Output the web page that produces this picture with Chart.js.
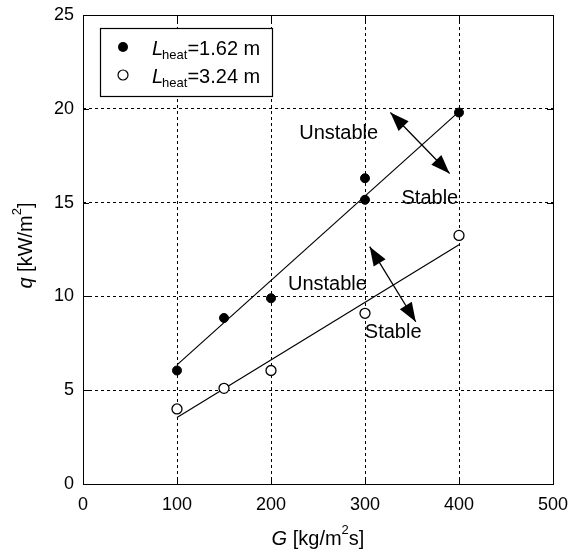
<!DOCTYPE html>
<html><head><meta charset="utf-8">
<script src="https://cdn.jsdelivr.net/npm/chart.js@4/dist/chart.umd.min.js"></script>
<style>html,body{margin:0;padding:0;background:#fff}#wrap{width:568px;height:552px}</style>
</head><body><div id="wrap"><canvas id="c" width="568" height="552"></canvas></div>
<script>
// ---- data ----
const G_short = [100, 150, 200, 300, 300, 400];
const q_short = [6.05, 8.85, 9.9, 16.3, 15.15, 19.8];
const G_long = [100, 150, 200, 300, 400];
const q_long = [4.0, 5.1, 6.05, 9.1, 13.25];
const fitG = [100, 400];
const fitShort = [6.35, 19.85];
const fitLong = [3.55, 12.75];
const xTicks = [0, 100, 200, 300, 400, 500];
const yTicks = [0, 5, 10, 15, 20, 25];
const legendLabels = ['=1.62 m', '=3.24 m'];
// annotations (data units)
const arrowUpperG = [327, 390], arrowUpperQ = [19.8, 16.55];
const arrowLowerG = [305, 354], arrowLowerQ = [12.65, 8.65];
const textLabels = ['Unstable', 'Stable', 'Unstable', 'Stable'];
const textG = [272, 369, 260, 330];
const textQ = [18.7, 15.2, 10.65, 8.05];

const FONT = '"Liberation Sans", Arial, sans-serif';
const toXY = (xs, ys) => xs.map((v, i) => ({x: v, y: ys[i]}));

const overlay = {
  id: 'overlay',
  afterDraw(chart) {
    const {ctx, chartArea: a, scales: {x, y}} = chart;
    ctx.save();
    ctx.strokeStyle = '#000'; ctx.fillStyle = '#000'; ctx.lineWidth = 1;
    const line = (x1, y1, x2, y2) => { ctx.beginPath(); ctx.moveTo(x1, y1); ctx.lineTo(x2, y2); ctx.stroke(); };
    // inward ticks on all sides
    xTicks.forEach(v => { const p = Math.round(x.getPixelForValue(v)) + 0.5; line(p, a.bottom, p, a.bottom - 6); line(p, a.top, p, a.top + 6); });
    yTicks.forEach(v => { const p = Math.round(y.getPixelForValue(v)) + 0.5; line(a.left, p, a.left + 6, p); line(a.right, p, a.right - 6, p); });
    // border
    ctx.strokeRect(Math.round(a.left) + 0.5, Math.round(a.top) + 0.5, Math.round(a.width), Math.round(a.height));
    // arrows
    const head = (x1, y1, x2, y2) => {
      const ang = Math.atan2(y2 - y1, x2 - x1), L = 19, W = 7;
      ctx.beginPath();
      ctx.moveTo(x2, y2);
      ctx.lineTo(x2 - L * Math.cos(ang) + W * Math.sin(ang), y2 - L * Math.sin(ang) - W * Math.cos(ang));
      ctx.lineTo(x2 - L * Math.cos(ang) - W * Math.sin(ang), y2 - L * Math.sin(ang) + W * Math.cos(ang));
      ctx.closePath(); ctx.fill();
    };
    const arrow = (gs, qs) => {
      const x1 = x.getPixelForValue(gs[0]), y1 = y.getPixelForValue(qs[0]);
      const x2 = x.getPixelForValue(gs[1]), y2 = y.getPixelForValue(qs[1]);
      ctx.lineWidth = 1.3; line(x1, y1, x2, y2);
      head(x1, y1, x2, y2); head(x2, y2, x1, y1);
    };
    arrow(arrowUpperG, arrowUpperQ);
    arrow(arrowLowerG, arrowLowerQ);
    // text labels
    ctx.font = '20px ' + FONT; ctx.textAlign = 'center'; ctx.textBaseline = 'middle';
    textLabels.forEach((t, i) => ctx.fillText(t, x.getPixelForValue(textG[i]), y.getPixelForValue(textQ[i])));
    // legend
    const lx = a.left + 17, ly = a.top + 13, lw = 172, lh = 68;
    ctx.fillStyle = '#fff'; ctx.fillRect(lx, ly, lw, lh);
    ctx.fillStyle = '#000'; ctx.lineWidth = 1.2;
    ctx.strokeRect(lx + 0.5, ly + 0.5, lw, lh);
    const rows = [ly + 19, ly + 47];
    ctx.beginPath(); ctx.arc(lx + 23, rows[0], 5, 0, Math.PI * 2); ctx.fill();
    ctx.beginPath(); ctx.arc(lx + 23, rows[1], 5, 0, Math.PI * 2); ctx.fillStyle = '#fff'; ctx.fill(); ctx.stroke();
    ctx.fillStyle = '#000'; ctx.textAlign = 'left'; ctx.textBaseline = 'alphabetic';
    rows.forEach((ry, i) => {
      let tx = lx + 52; const base = ry + 8;
      ctx.font = 'italic 20px ' + FONT; ctx.fillText('L', tx, base); tx += ctx.measureText('L').width - 1;
      ctx.font = '13px ' + FONT; ctx.fillText('heat', tx, base + 4); tx += ctx.measureText('heat').width;
      ctx.font = '20px ' + FONT; ctx.fillText(legendLabels[i], tx, base);
    });
    // x-axis title: G [kg/m^2 s]
    const cx = (a.left + a.right) / 2, by = 545;
    const parts = [['italic 20px ', 'G', 0], ['20px ', ' [kg/m', 0], ['13px ', '2', -11], ['20px ', 's]', 0]];
    let total = 0;
    parts.forEach(p => { ctx.font = p[0] + FONT; total += ctx.measureText(p[1]).width; });
    let tx = cx - total / 2;
    parts.forEach(p => { ctx.font = p[0] + FONT; ctx.fillText(p[1], tx, by + p[2]); tx += ctx.measureText(p[1]).width; });
    // y-axis title: q [kW/m^2]
    ctx.translate(32, (a.top + a.bottom) / 2 - 4);
    ctx.rotate(-Math.PI / 2);
    const yparts = [['italic 20px ', 'q', 0], ['20px ', ' [kW/m', 0], ['13px ', '2', -11], ['20px ', ']', 0]];
    total = 0;
    yparts.forEach(p => { ctx.font = p[0] + FONT; total += ctx.measureText(p[1]).width; });
    tx = -total / 2;
    yparts.forEach(p => { ctx.font = p[0] + FONT; ctx.fillText(p[1], tx, p[2]); tx += ctx.measureText(p[1]).width; });
    ctx.restore();
  }
};

new Chart(document.getElementById('c'), {
  type: 'scatter',
  data: {
    datasets: [
      {data: toXY(G_short, q_short), pointStyle: 'circle', pointRadius: 4.5, backgroundColor: '#000', borderColor: '#000', borderWidth: 1},
      {data: toXY(G_long, q_long), pointStyle: 'circle', pointRadius: 5, backgroundColor: '#fff', borderColor: '#000', borderWidth: 1.3},
      {type: 'line', data: toXY(fitG, fitShort), showLine: true, pointRadius: 0, borderColor: '#000', borderWidth: 1.2, fill: false},
      {type: 'line', data: toXY(fitG, fitLong), showLine: true, pointRadius: 0, borderColor: '#000', borderWidth: 1.2, fill: false}
    ]
  },
  options: {
    responsive: false, animation: false, devicePixelRatio: 1,
    layout: {padding: {left: 0, right: 15, top: 15, bottom: 0}},
    plugins: {legend: {display: false}, tooltip: {enabled: false}},
    scales: {
      x: {
        type: 'linear', min: 0, max: 500,
        afterBuildTicks: s => { s.ticks = xTicks.map(v => ({value: v})); },
        afterFit: s => { s.height = 68; s.paddingLeft = 0; s.paddingRight = 0; },
        ticks: {color: '#000', font: {family: FONT, size: 18}, padding: 10, maxRotation: 0, autoSkip: false},
        grid: {color: '#000', lineWidth: 1, drawTicks: false},
        border: {display: false, dash: [3, 3]}
      },
      y: {
        type: 'linear', min: 0, max: 25,
        afterBuildTicks: s => { s.ticks = yTicks.map(v => ({value: v})); },
        afterFit: s => { s.width = 83; s.paddingTop = 0; s.paddingBottom = 0; },
        ticks: {color: '#000', font: {family: FONT, size: 18}, padding: 9, autoSkip: false},
        grid: {color: '#000', lineWidth: 1, drawTicks: false},
        border: {display: false, dash: [3, 3]}
      }
    }
  },
  plugins: [overlay]
});
</script></body></html>
